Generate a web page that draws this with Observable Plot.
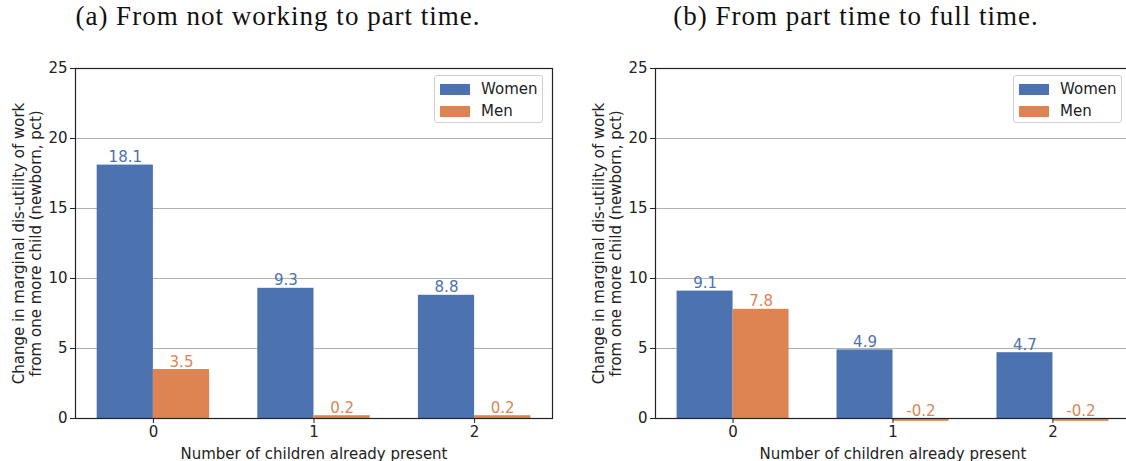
<!DOCTYPE html>
<html><head><meta charset="utf-8">
<script src="https://cdn.jsdelivr.net/npm/d3@7"></script>
<script src="https://cdn.jsdelivr.net/npm/@observablehq/plot@0.6"></script>
<style>
body{margin:0;background:#fff;}
#wrap{position:relative;width:1126px;height:461px;overflow:hidden;font-family:"DejaVu Sans",sans-serif;}
.panel{position:absolute;top:0;}
.title{position:absolute;top:1px;font-family:"Liberation Serif",serif;font-size:27px;letter-spacing:1px;white-space:nowrap;transform:translateX(-50%);color:#111;line-height:30px;}
.legend{position:absolute;top:75px;width:107px;height:46px;border:1px solid #d0d0d0;border-radius:3px;background:rgba(255,255,255,0.8);font-size:15px;color:#222;}
.legend .row{position:absolute;left:5px;height:16px;display:flex;align-items:center;}
.legend .sw{width:30px;height:11px;margin-right:11px;}
</style>
</head><body>
<div id="wrap"></div>
<script>
const categories = [0, 1, 2];
const seriesNames = ["Women", "Men"];
const seriesColors = ["#4C72B0", "#DD8452"];
const womenA = [18.1, 9.3, 8.8];
const menA = [3.5, 0.2, 0.2];
const womenB = [9.1, 4.9, 4.7];
const menB = [7.8, -0.2, -0.2];
const yTicks = [0, 5, 10, 15, 20, 25];
const gridTicks = [5, 10, 15, 20];
const titleA = "(a) From not working to part time.";
const titleB = "(b) From part time to full time.";
const xLabel = "Number of children already present";
const yLabel = "Change in marginal dis-utility of work\nfrom one more child (newborn, pct)";

const barW = 0.35;

function panel(women, men, width, marginLeft, marginRight) {
  const rows = categories.flatMap((c, i) => [
    {x1: c - barW, x2: c, v: women[i], s: "Women"},
    {x1: c, x2: c + barW, v: men[i], s: "Men"}
  ]);
  return Plot.plot({
    width, height: 461,
    marginTop: 68, marginBottom: 43, marginLeft, marginRight,
    x: {domain: [-0.485, 2.485]},
    y: {domain: [0, 25]},
    color: {domain: seriesNames, range: seriesColors},
    style: {fontFamily: "DejaVu Sans", fontSize: "15px", color: "#222", background: "transparent", overflow: "visible"},
    marks: [
      Plot.ruleY(gridTicks, {stroke: "#b0b0b0", strokeWidth: 1}),
      Plot.rectY(rows, {x1: "x1", x2: "x2", y: "v", fill: "s"}),
      Plot.text(rows, {x: d => (d.x1 + d.x2) / 2, y: d => Math.max(d.v, 0), text: d => d.v.toFixed(1), fill: "s", lineAnchor: "bottom", dy: -3, fontSize: 15}),
      Plot.axisX(categories, {tickSize: 5, tickPadding: 3, fontSize: 15, tickFormat: d => String(d), label: null}),
      Plot.axisY(yTicks, {tickSize: 5, tickPadding: 3, fontSize: 15, label: null}),
      Plot.text([xLabel], {frameAnchor: "bottom", lineAnchor: "bottom", dy: 40, fontSize: 15}),
      Plot.text([yLabel], {frameAnchor: "left", rotate: -90, dx: -64, textAnchor: "middle", lineAnchor: "top", lineHeight: 1.15, fontSize: 15}),
      Plot.frame({stroke: "#222", strokeWidth: 1.2})
    ]
  });
}

const wrap = document.getElementById("wrap");
function place(el, left) { el.classList.add("panel"); el.style.left = left + "px"; wrap.appendChild(el); }
place(panel(womenA, menA, 563, 75, 11), 0);
place(panel(womenB, menB, 570, 92, 3), 563);

function addTitle(text, cx) {
  const d = document.createElement("div"); d.className = "title"; d.textContent = text; d.style.left = cx + "px"; wrap.appendChild(d);
}
addTitle(titleA, 278);
addTitle(titleB, 856);

function addLegend(left) {
  const lg = document.createElement("div"); lg.className = "legend"; lg.style.left = left + "px";
  seriesNames.forEach((n, i) => {
    const r = document.createElement("div"); r.className = "row"; r.style.top = (5 + i * 22) + "px";
    const sw = document.createElement("div"); sw.className = "sw"; sw.style.background = seriesColors[i];
    const t = document.createElement("span"); t.textContent = n;
    r.appendChild(sw); r.appendChild(t); lg.appendChild(r);
  });
  wrap.appendChild(lg);
}
addLegend(434);
addLegend(1013);
</script>
</body></html>
